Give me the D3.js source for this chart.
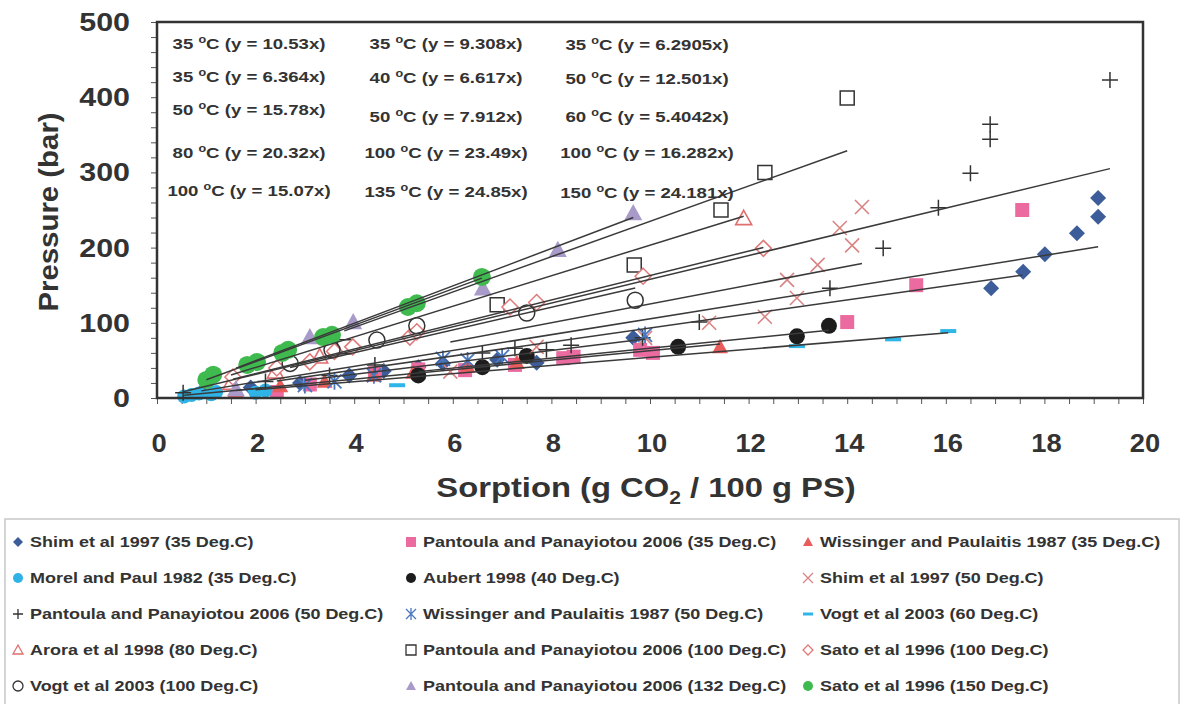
<!DOCTYPE html>
<html><head><meta charset="utf-8">
<script src="https://cdn.jsdelivr.net/npm/d3@7/dist/d3.min.js"></script>
<style>
html,body{margin:0;padding:0;background:#fff;}
svg text{font-family:"Liberation Sans",Arial,sans-serif;font-weight:bold;fill:#333;}
</style></head>
<body>
<svg id="chart" width="1186" height="704"></svg>
<script>
// ---------- data (sorption g CO2/100 g PS, pressure bar) ----------
const shim35 = [[0.9,8],[1.9,14],[2.9,20],[3.9,30],[4.6,36],[5.3,41],[5.8,46],[6.9,51],[7.7,47],[9.66,80],[16.92,146],[17.57,168],[18.01,191],[18.66,219],[19.09,241],[19.09,266]];
const pantoula35 = [[2.43,8],[3.1,18],[4.42,33],[5.3,38],[6.25,37],[7.26,44],[8.24,53],[8.45,55],[9.8,64],[10.06,60],[14.0,101],[15.4,150],[17.55,250]];
const wissinger35 = [[1.6,10],[2.5,16],[3.4,22],[4.4,30],[5.2,34],[6.3,42],[7.3,47],[11.42,68]];
const morel35 = [[0.55,2],[0.7,4],[0.85,6],[1.1,5],[1.2,8],[2.0,7],[2.2,10]];
const aubert40 = [[5.3,30],[6.6,41],[7.5,56],[10.57,68],[12.98,82],[13.63,96]];
const shim50 = [[5.95,35],[7.7,68],[9.9,80],[11.2,100],[12.33,108],[12.78,157],[12.98,133],[13.4,177],[13.85,226],[14.1,203],[14.3,254]];
const pantoula50 = [[0.53,7],[2.2,22],[3.5,30],[4.42,44],[6.6,60],[7.26,66],[7.9,64],[8.4,70],[9.85,80],[11.0,101],[13.65,146],[14.73,199],[15.85,253],[16.5,299],[16.9,344],[16.9,364],[19.33,423]];
const wissinger50 = [[3.0,17],[3.6,22],[4.4,30],[5.8,52],[6.3,50],[7.0,55],[9.9,84]];
const vogt60 = [[2.0,10],[4.87,17],[12.98,69],[14.93,78],[16.05,89]];
const arora80 = [[1.5,20],[2.4,35],[3.3,55],[11.9,239]];
const pantoula100 = [[3.8,68],[6.9,124],[9.68,177],[11.44,250],[12.33,300],[14.0,399]];
const sato100 = [[1.54,28],[2.43,40],[3.1,48],[3.6,62],[3.97,68],[5.13,81],[5.27,88],[7.16,121],[7.7,127],[9.86,162],[12.3,199]];
const vogt100 = [[2.7,46],[3.55,64],[4.46,77],[5.27,96],[7.5,113],[9.7,130]];
const pantoula132 = [[1.6,12],[3.1,81],[3.98,101],[6.61,146],[8.13,197],[9.66,246]];
const sato150 = [[1.0,24],[1.14,31],[1.83,44],[2.03,48],[2.54,60],[2.66,64],[3.37,81],[3.55,84],[5.09,121],[5.27,126],[6.59,161]];

const seriesNames = ["Shim et al 1997 (35 Deg.C)","Pantoula and Panayiotou 2006 (35 Deg.C)","Wissinger and Paulaitis 1987 (35 Deg.C)",
 "Morel and Paul 1982 (35 Deg.C)","Aubert 1998 (40 Deg.C)","Shim et al 1997 (50 Deg.C)",
 "Pantoula and Panayiotou 2006 (50 Deg.C)","Wissinger and Paulaitis 1987 (50 Deg.C)","Vogt et al 2003 (60 Deg.C)",
 "Arora et al 1998 (80 Deg.C)","Pantoula and Panayiotou 2006 (100 Deg.C)","Sato et al 1996 (100 Deg.C)",
 "Vogt et al 2003 (100 Deg.C)","Pantoula and Panayiotou 2006 (132 Deg.C)","Sato et al 1996 (150 Deg.C)"];
const seriesData = [shim35,pantoula35,wissinger35,morel35,aubert40,shim50,pantoula50,wissinger50,vogt60,arora80,pantoula100,sato100,vogt100,pantoula132,sato150];
const slopes = [10.53,9.308,6.2905,6.364,6.617,12.501,15.78,7.912,5.4042,20.32,23.49,16.282,15.07,24.85,24.181];
const eqTemps = ["35","35","35","35","40","50","50","50","60","80","100","100","100","135","150"];
const eqSlopes = ["10.53","9.308","6.2905","6.364","6.617","12.501","15.78","7.912","5.4042","20.32","23.49","16.282","15.07","24.85","24.181"];
const xTicks = [0,2,4,6,8,10,12,14,16,18,20];
const yTicks = [0,100,200,300,400,500];

// ---------- styles ----------
const styles = [
 {t:"diamond",fill:"#3d5c9a",stroke:"none",s:8},
 {t:"square",fill:"#eb6aa0",stroke:"none",s:7},
 {t:"triangle",fill:"#e85c5c",stroke:"none",s:8},
 {t:"circle",fill:"#2fb3e6",stroke:"none",s:7},
 {t:"circle",fill:"#1c1c1c",stroke:"none",s:8},
 {t:"x",fill:"none",stroke:"#d98484",s:7,w:1.6},
 {t:"plus",fill:"none",stroke:"#333",s:8,w:1.5},
 {t:"asterisk",fill:"none",stroke:"#4a78bf",s:7,w:1.8},
 {t:"dash",fill:"none",stroke:"#2fb6e8",s:8,w:4},
 {t:"triangle",fill:"#fff",stroke:"#e06f6f",s:8,w:1.6},
 {t:"square",fill:"#fff",stroke:"#333",s:7,w:1.5},
 {t:"diamond",fill:"#fff",stroke:"#e07a7a",s:8,w:1.5},
 {t:"circle",fill:"none",stroke:"#333",s:8,w:1.5},
 {t:"triangle",fill:"#a89bc9",stroke:"none",s:9},
 {t:"circle",fill:"#3fba4e",stroke:"none",s:9}
];
function shape(t,s){
  switch(t){
    case "diamond": return `M0,${-s}L${s},0L0,${s}L${-s},0Z`;
    case "square": return `M${-s},${-s}h${2*s}v${2*s}h${-2*s}Z`;
    case "triangle": return `M0,${-s}L${s},${s*0.8}L${-s},${s*0.8}Z`;
    case "circle": { const p=d3.path(); p.arc(0,0,s,0,2*Math.PI); p.closePath(); return p.toString(); }
    case "plus": return `M${-s},0H${s}M0,${-s}V${s}`;
    case "x": return `M${-s},${-s}L${s},${s}M${-s},${s}L${s},${-s}`;
    case "asterisk": return `M${-s},${-s}L${s},${s}M${-s},${s}L${s},${-s}M0,${-s*1.2}V${s*1.2}`;
    case "dash": return `M${-s},0H${s}`;
  }
}

const svg = d3.select("#chart");
const x = d3.scaleLinear().domain([0,20]).range([157,1143]);
const y = d3.scaleLinear().domain([0,500]).range([398,22]);
const SX = 1.16; // horizontal stretch of lettering

function stext(g, px, py, size, anchor, sx){
  return g.append("text")
    .attr("transform",`translate(${px},${py}) scale(${sx||SX},1)`)
    .attr("text-anchor",anchor).attr("font-size",size);
}

svg.append("rect").attr("x",157).attr("y",22).attr("width",986).attr("height",376).attr("fill","#fff");

// axes
const gx = svg.append("g").attr("transform","translate(0,398)")
  .call(d3.axisBottom(x).tickValues(d3.range(0,20.01,0.5)).tickSize(6).tickFormat(""));
const gy = svg.append("g").attr("transform","translate(157,0)")
  .call(d3.axisLeft(y).tickValues(d3.range(0,501,20)).tickSize(6).tickFormat(""));
[gx,gy].forEach(g=>{g.select(".domain").remove(); g.selectAll("line").attr("stroke","#555").attr("stroke-width",1);});

xTicks.forEach(d=>stext(svg, x(d)+2, 452, 26, "middle", 1.05).text(d));
yTicks.forEach(d=>stext(svg, 130, y(d)+9, 26, "end", 1.17).text(d));

// titles
const xt = stext(svg, 646, 497, 28, "middle", 1.17);
xt.append("tspan").text("Sorption (g CO");
xt.append("tspan").attr("font-size",18).attr("dy",7).text("2");
xt.append("tspan").attr("dy",-7).text(" / 100 g PS)");
svg.append("text").attr("transform","translate(58,212) rotate(-90) scale(1.05,1)").attr("text-anchor","middle").attr("font-size",28).text("Pressure (bar)");

// points
const plot = svg.append("g");
seriesData.forEach((data,i)=>{
  const st = styles[i];
  plot.append("g").selectAll("path").data(data).join("path")
    .attr("transform",d=>`translate(${x(d[0])},${y(d[1])})`)
    .attr("d",shape(st.t,st.s))
    .attr("fill",st.fill).attr("stroke",st.stroke).attr("stroke-width",st.w||1)
    .attr("stroke-linecap","butt");
});

// trendlines (y = slope * x over each series' range)
const line = d3.line().x(d=>x(d[0])).y(d=>y(d[1]));
seriesData.forEach((data,i)=>{
  const ext = d3.extent(data,d=>d[0]);
  svg.append("path").attr("d",line(ext.map(v=>[v,slopes[i]*v])))
    .attr("fill","none").attr("stroke","#3a3a3a").attr("stroke-width",1.5);
});

// frame
svg.append("rect").attr("x",157).attr("y",22).attr("width",986).attr("height",376)
  .attr("fill","none").attr("stroke","#333").attr("stroke-width",2.5);

// equation labels (3 columns x 5 rows)
const colX = [249,446,647];
const rowY = [[49,82,115,158,196],[49,83,122,158,197],[50,84,122,158,198]];
eqTemps.forEach((t,i)=>{
  const c = i%3, r = Math.floor(i/3);
  const tx = stext(svg, colX[c], rowY[c][r], 15.5, "middle", 1.2);
  tx.append("tspan").text(t+" ");
  tx.append("tspan").attr("font-size",10.5).attr("dy",-6).text("o");
  tx.append("tspan").attr("dy",6).text("C (y = "+eqSlopes[i]+"x)");
});

// legend
svg.append("rect").attr("x",5).attr("y",519).attr("width",1174).attr("height",200)
  .attr("fill","#fff").attr("stroke","#c8c8c8").attr("stroke-width",1.5);
const lgX = [18,411,808];
seriesNames.forEach((n,i)=>{
  const c = i%3, r = Math.floor(i/3);
  const st = styles[i];
  const cx = lgX[c], cy = 542 + r*36;
  svg.append("path").attr("transform",`translate(${cx},${cy})`)
    .attr("d",shape(st.t,5))
    .attr("fill",st.fill).attr("stroke",st.stroke).attr("stroke-width",st.t==="dash"?3:(st.w?1.3:1));
  stext(svg, cx+12, cy+5, 15.5, "start", 1.16).text(n);
});
</script>
</body></html>
